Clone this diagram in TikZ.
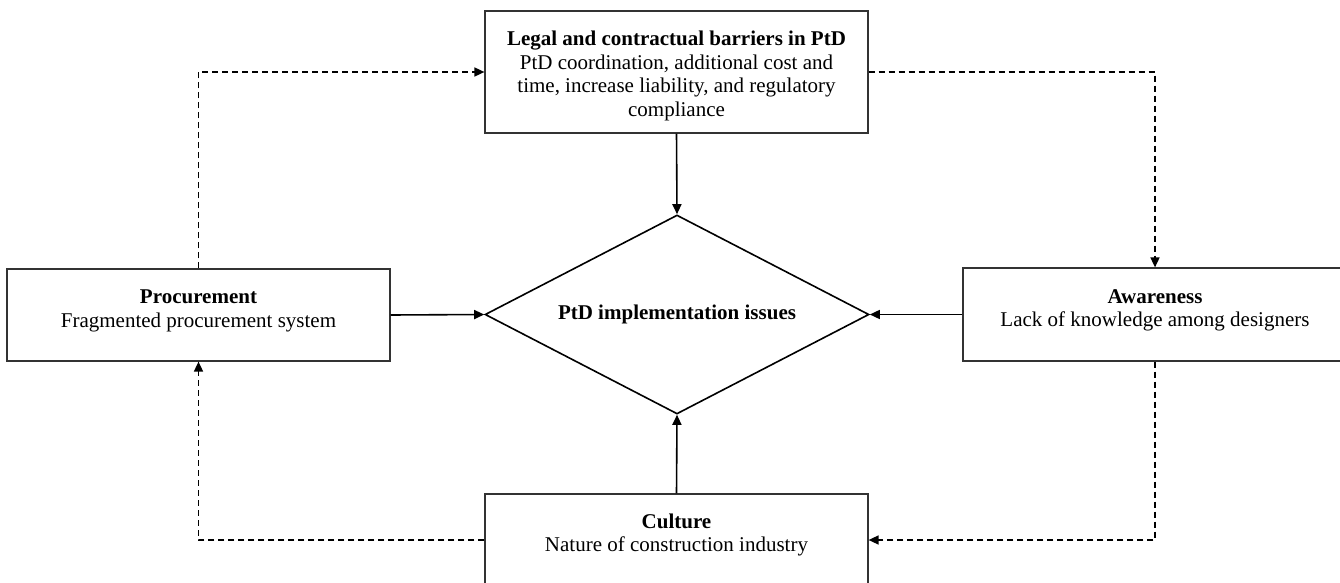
\documentclass[tikz,border=0pt]{standalone}
\usepackage{fontspec}
\setmainfont{Liberation Serif}
\usetikzlibrary{arrows.meta,shapes.geometric}
\begin{document}
\begin{tikzpicture}[x=1pt,y=-1pt,
  box/.style={draw=black!80, line width=1.2pt, minimum width=383pt, inner sep=0pt},
  txt/.style={align=center, font=\fontsize{21}{23.5}\selectfont, inner sep=0pt},
  link/.style={line width=1.6pt, -{Triangle[length=10pt,width=9pt]}},
  dlink/.style={link, dash pattern=on 6pt off 4pt},
]
\useasboundingbox (0,0) rectangle (1340,583);

% boxes around the central issue
\node[box, minimum height=122pt] (legal) at (676.5,72) {};
\node[box, minimum height=92pt] (proc) at (198.5,315) {};
\node[box, minimum width=384pt, minimum height=93pt] (aware) at (1155,314.5) {};
\node[box, minimum height=92pt] (cult) at (676.5,540) {};
\node[draw, diamond, line width=1.6pt, minimum width=384pt, minimum height=199pt, inner sep=0pt] (issues) at (677,314.5) {};

% texts
\node[txt, yshift=-4pt] (legalT) at (legal.center)
  {\textbf{Legal and contractual barriers in PtD}\\PtD coordination, additional cost and\\time, increase liability, and regulatory\\compliance};
\node[txt, yshift=4pt] (procT) at (proc.center)
  {\textbf{Procurement}\\Fragmented procurement system};
\node[txt, yshift=4pt] (awareT) at (aware.center)
  {\textbf{Awareness}\\Lack of knowledge among designers};
\node[txt, yshift=5pt] (cultT) at (cult.center)
  {\textbf{Culture}\\Nature of construction industry};
\node[txt] (issuesT) at (issues.center) {\textbf{PtD implementation issues}};

% direct influences
\draw[link] (legal.south) -- (issues.north);
\draw[link] (proc.east) -- (issues.west);
\draw[link] (aware.west) -- (issues.east);
\draw[link] (cult.north) -- (issues.south);

% feedback loop
\draw[dlink] (proc.north) |- (legal.west);
\draw[dlink] (legal.east) -| (aware.north);
\draw[dlink] (aware.south) |- (cult.east);
\draw[dlink] (cult.west) -| (proc.south);
\end{tikzpicture}
\end{document}
